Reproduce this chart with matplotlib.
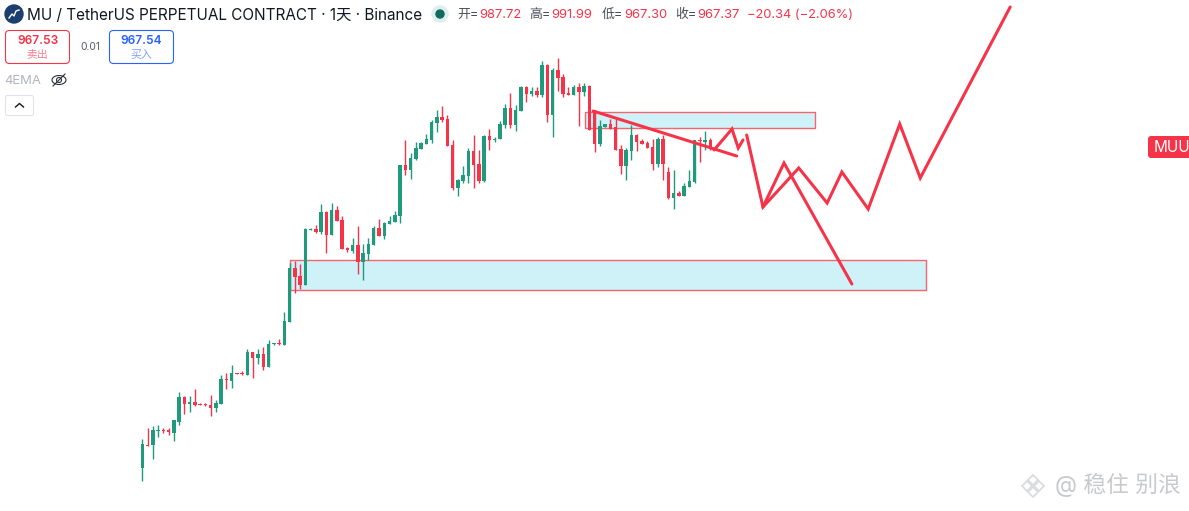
import matplotlib
matplotlib.use('Agg')
import matplotlib.pyplot as plt
from matplotlib.patches import Circle, Ellipse, FancyBboxPatch, Polygon, Rectangle

plt.rcParams['font.family'] = ['Inter', 'Noto Sans CJK SC', 'DejaVu Sans']

# candles. the price axis is hidden so levels are in chart units
opens = [43, 66, 66, 80, 81, 81, 78, 89, 114, 107, 109, 107, 107, 106, 103, 107, 132, 130, 138, 138,
         136, 159, 153, 157, 144, 167, 168, 166, 189, 243, 235, 226, 281, 282, 279, 299, 276, 301, 291, 263,
         260, 266, 249, 257, 266, 283, 275, 287, 289, 295, 346, 341, 352, 362, 367, 371, 388, 394, 392, 366,
         323, 330, 335, 360, 347, 330, 375, 371, 372, 386, 403, 386, 400, 424, 417, 420, 416, 446, 396, 441,
         434, 418, 416, 424, 419, 425, 401, 367, 384, 387, 384, 362, 345, 360, 376, 370, 368, 364, 347, 372,
         339, 313, 318, 315, 324, 329, 371, 369, 371]
closes = [67, 65, 81, 81, 80, 79, 91, 114, 107, 109, 106, 106, 106, 103, 108, 132, 131, 138, 137, 137,
          159, 153, 157, 144, 167, 168, 167, 190, 243, 234, 226, 282, 282, 279, 299, 276, 301, 290, 262, 261,
          266, 249, 258, 267, 283, 275, 288, 290, 296, 346, 341, 353, 363, 368, 372, 389, 394, 391, 365, 323,
          331, 336, 360, 346, 330, 375, 371, 372, 387, 403, 386, 401, 424, 417, 420, 416, 446, 396, 441, 433,
          417, 416, 424, 419, 425, 381, 367, 385, 387, 382, 361, 345, 361, 376, 369, 367, 363, 347, 372, 347,
          313, 318, 315, 325, 330, 371, 370, 371, 364]
highs = [72, 83, 85, 86, 83, 83, 91, 119, 115, 115, 122, 108, 108, 116, 111, 136, 138, 146, 138, 140,
         162, 159, 162, 164, 171, 168, 172, 199, 248, 250, 247, 283, 283, 286, 307, 300, 308, 305, 295, 264,
         273, 285, 267, 273, 285, 292, 289, 295, 300, 346, 371, 358, 369, 369, 377, 391, 401, 405, 396, 371,
         332, 345, 363, 376, 361, 376, 382, 374, 390, 407, 418, 406, 425, 425, 424, 424, 450, 447, 443, 453,
         437, 424, 426, 428, 428, 426, 401, 391, 387, 392, 393, 366, 363, 386, 377, 372, 370, 372, 374, 376,
         344, 341, 320, 328, 341, 371, 374, 380, 373]
lows = [30, 65, 52, 74, 78, 76, 70, 86, 97, 99, 105, 106, 105, 95, 99, 107, 122, 123, 137, 136,
        136, 133, 147, 141, 144, 166, 166, 166, 189, 218, 222, 226, 281, 278, 277, 258, 276, 290, 262, 259,
        258, 237, 231, 251, 266, 275, 272, 287, 289, 288, 336, 332, 351, 362, 367, 368, 379, 389, 365, 321,
        315, 328, 328, 323, 328, 329, 361, 369, 372, 383, 383, 380, 400, 409, 415, 414, 414, 389, 374, 420,
        414, 416, 416, 385, 415, 381, 359, 365, 384, 382, 361, 337, 331, 351, 360, 367, 363, 341, 344, 331,
        312, 302, 315, 315, 324, 328, 349, 361, 361]

# zones: first bar, last bar, lower level, upper level
zone_starts = [28.0, 84.1]
zone_ends = [149.0, 127.9]
zone_lows = [221.0, 383.0]
zone_highs = [250.7, 398.7]

# hand drawn projection lines
trend_x = [85.7, 113.0]
trend_y = [400, 355]
small_wave_x = [108.7, 112.1, 113.3, 114.2]
small_wave_y = [361, 382, 363, 371]
long_wave_x = [114.9, 118.0, 124.8, 130.2, 133.0, 138.0, 144.0, 147.9, 165.0]
long_wave_y = [376, 304, 343, 308, 339, 302, 387, 333, 504]
down_wave_x = [118.0, 122.0, 134.9]
down_wave_y = [304, 348, 227]

symbol_title = 'MU / TetherUS PERPETUAL CONTRACT · 1天 · Binance'
ohlc_labels = ['开=', '高=', '低=', '收=']
ohlc_values = ['987.72', '991.99', '967.30', '967.37']
change_label = '−20.34 (−2.06%)'
sell_price = '967.53'
buy_price = '967.54'
spread = '0.01'

GREEN = '#209a7c'
RED = '#f5344a'
ZONE_FILL = '#cff1f8'
ZONE_EDGE = '#f7636f'

fig = plt.figure(figsize=(11.89, 5.11), dpi=100)
ax = fig.add_axes([0, 0, 1, 1])
ax.set_xlim(-27.05, 198.99)
ax.set_ylim(0, 511)
ax.axis('off')

for idx in range(len(zone_starts)):
    ax.add_patch(Rectangle((zone_starts[idx], zone_lows[idx]), zone_ends[idx] - zone_starts[idx],
                           zone_highs[idx] - zone_lows[idx], facecolor=ZONE_FILL, edgecolor=ZONE_EDGE,
                           linewidth=1.0, zorder=1))

for idx in range(len(opens)):
    color = GREEN if closes[idx] >= opens[idx] else RED
    ax.vlines(idx, lows[idx], highs[idx], color=color, linewidth=1.0, zorder=2)
    bottom = min(opens[idx], closes[idx])
    height = max(abs(closes[idx] - opens[idx]), 1)
    ax.bar(idx, height, bottom=bottom, width=0.66, color=color, linewidth=0, zorder=3)

for xs, ys in [(trend_x, trend_y), (small_wave_x, small_wave_y), (long_wave_x, long_wave_y),
               (down_wave_x, down_wave_y)]:
    ax.plot(xs, ys, color=RED, linewidth=2.2, solid_capstyle='round', solid_joinstyle='miter', zorder=4)

# everything around the chart is placed in pixels
ui = fig.add_axes([0, 0, 1, 1])
ui.set_xlim(0, 1189)
ui.set_ylim(511, 0)
ui.axis('off')
ui.patch.set_alpha(0)


def rounded(x0, y0, x1, y1, edge, face='white', radius=4, lw=0.8):
    ui.add_patch(FancyBboxPatch((x0 + radius, y0 + radius), x1 - x0 - 2 * radius, y1 - y0 - 2 * radius,
                                boxstyle='round,pad=%s' % radius, facecolor=face, edgecolor=edge, linewidth=lw))


# header
ui.add_patch(Circle((14, 14), 9, color='#1b3f6f'))
ui.plot([9, 12, 14, 16, 19], [18, 14, 16, 11, 10], color='white', linewidth=1.0)
ui.text(27, 15, symbol_title, fontsize=11.02, color='#131722', va='center')
ui.add_patch(Circle((440, 14), 8, color='#dfedf0'))
ui.add_patch(Circle((440, 14), 4, color='#0f6b5c'))

label_x = [457, 529, 602, 675]
value_x = [479, 551.5, 624, 697]
for idx in range(4):
    ui.text(label_x[idx], 15, ohlc_labels[idx], fontsize=9.3, color='#4a4e59', va='center')
    ui.text(value_x[idx], 15, ohlc_values[idx], fontsize=9.3, color=RED, va='center')
ui.text(747, 15, change_label, fontsize=9.25, color=RED, va='center')

# buy and sell buttons
rounded(5.5, 30.5, 69.5, 63.5, RED)
ui.text(37.5, 40.5, sell_price, fontsize=8.6, color=RED, weight='semibold', ha='center', va='center')
ui.text(37.5, 55, '卖出', fontsize=7.8, color='#f7808c', ha='center', va='center')
ui.text(90, 47.5, spread, fontsize=7.4, color='#555962', ha='center', va='center')
rounded(109.5, 30.5, 173.5, 63.5, '#2962ff')
ui.text(141.5, 40.5, buy_price, fontsize=8.6, color='#2962ff', weight='semibold', ha='center', va='center')
ui.text(141.5, 55, '买入', fontsize=7.8, color='#7f9fff', ha='center', va='center')

# indicator row
ui.text(4.5, 81, '4EMA', fontsize=9.4, color='#b2b5be', va='center')
ui.add_patch(Ellipse((59, 80), 14, 9, facecolor='none', edgecolor='#2a2e39', linewidth=0.8))
ui.add_patch(Circle((59, 80), 2.5, facecolor='none', edgecolor='#2a2e39', linewidth=0.8))
ui.plot([53, 65], [86, 74], color='#2a2e39', linewidth=0.8)
rounded(5.5, 95.5, 33.5, 115.5, '#e0e3eb', radius=2)
ui.plot([15.5, 19.5, 23.5], [107, 103.5, 107], color='#131722', linewidth=1.0)

# symbol tag cut by the right edge
rounded(1148, 136, 1200, 158, RED, face=RED, radius=3, lw=0)
ui.text(1154, 147.5, 'MUU', fontsize=11, color='white', va='center', clip_on=True)

# watermark
for dx, dy in [(0, -6), (-6, 0), (6, 0), (0, 6)]:
    ui.add_patch(Polygon([(1033 + dx, 486 + dy - 5), (1033 + dx + 5, 486 + dy), (1033 + dx, 486 + dy + 5),
                          (1033 + dx - 5, 486 + dy)], facecolor='white', edgecolor='#d9dadc', linewidth=1.2))
ui.text(1055, 485, '@ 稳住 别浪', fontsize=16.4, color='#c8cacd', va='center')

fig.savefig('out.png', dpi=100)
